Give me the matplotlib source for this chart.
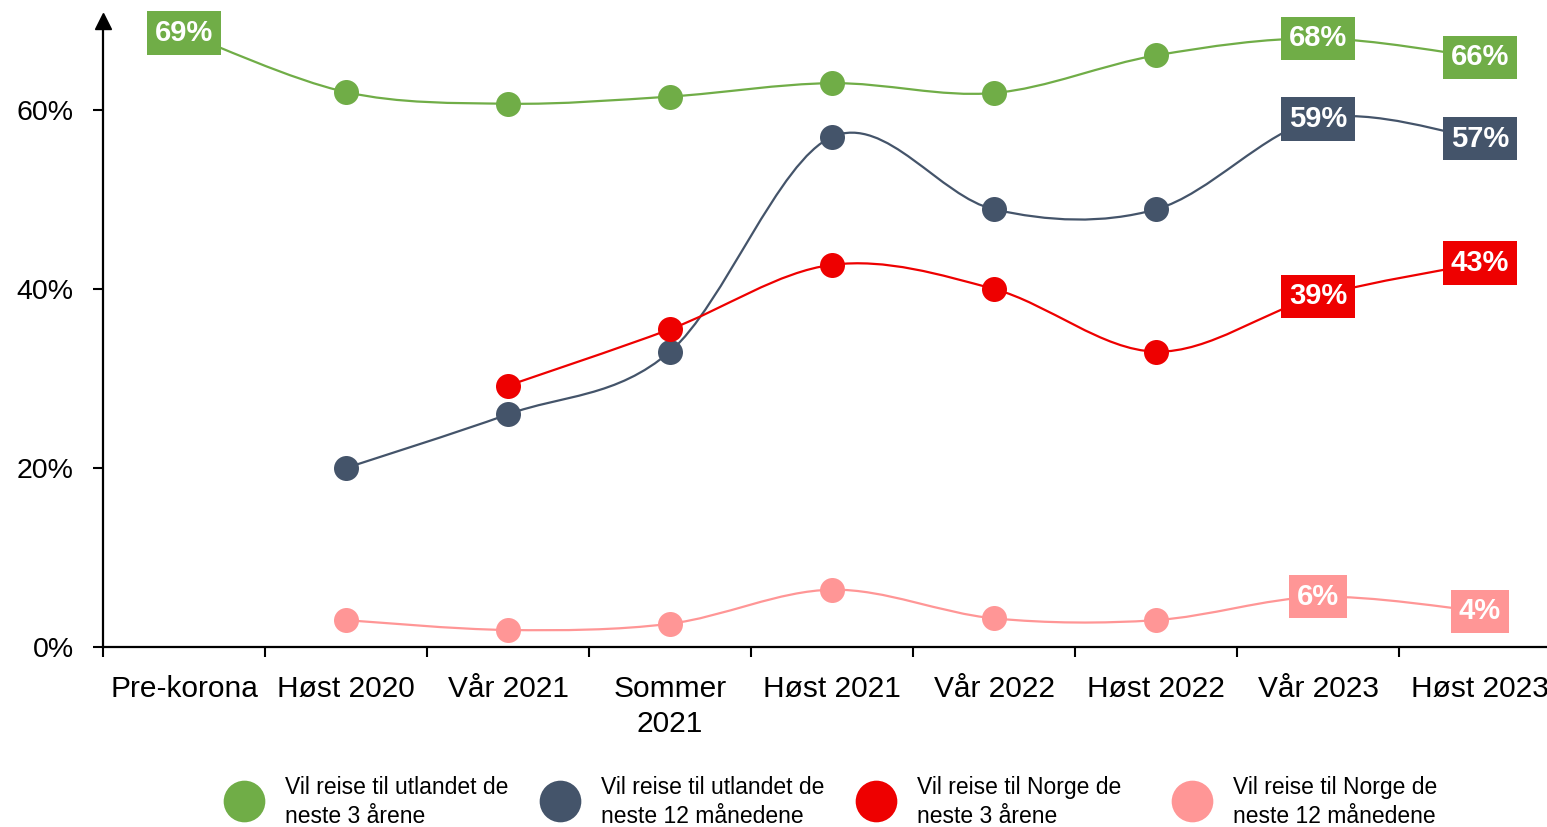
import numpy as np
import matplotlib.pyplot as plt
from matplotlib.path import Path
from matplotlib.patches import PathPatch
from matplotlib.lines import Line2D

# periods on the x axis
periods = ["Pre-korona", "Høst 2020", "Vår 2021", "Sommer\n2021", "Høst 2021",
           "Vår 2022", "Høst 2022", "Vår 2023", "Høst 2023"]

# values in percent, None = not measured
utland_3aar = [68.6, 62.0, 60.7, 61.5, 63.0, 61.9, 66.1, 68.0, 65.9]
utland_12mnd = [None, 20.0, 26.0, 33.0, 57.0, 48.9, 48.9, 59.0, 56.8]
norge_3aar = [None, None, 29.2, 35.5, 42.7, 40.0, 33.0, 39.2, 42.9]
norge_12mnd = [None, 3.0, 1.9, 2.6, 6.4, 3.2, 3.0, 5.6, 4.0]

names = ["Vil reise til utlandet de\nneste 3 årene",
         "Vil reise til utlandet de\nneste 12 månedene",
         "Vil reise til Norge de\nneste 3 årene",
         "Vil reise til Norge de\nneste 12 månedene"]
colors = ["#70AD47", "#44546A", "#EE0000", "#FF9696"]
# which points get a value box instead of a plain marker
boxed = [[0, 7, 8], [7, 8], [7, 8], [7, 8]]

plt.rcParams['font.family'] = ['Liberation Sans', 'DejaVu Sans']

W, H = 1547, 827
fig = plt.figure(figsize=(W / 100, H / 100), dpi=100)
ax = fig.add_axes([103 / W, 1 - 647 / H, 1458 / W, 626.5 / H])
ax.set_xlim(-0.5, 8.5)
ax.set_ylim(0, 70)


def smooth_path(xs, ys):
    # excel-like smoothed line: cubic bezier from catmull-rom tangents
    pts = np.column_stack([xs, ys])
    verts = [pts[0]]
    codes = [Path.MOVETO]
    n = len(pts)
    for i in range(n - 1):
        p0 = pts[max(i - 1, 0)]
        p1 = pts[i]
        p2 = pts[i + 1]
        p3 = pts[min(i + 2, n - 1)]
        verts += [p1 + (p2 - p0) / 6, p2 - (p3 - p1) / 6, p2]
        codes += [Path.CURVE4] * 3
    return Path(verts, codes)


series = [utland_3aar, utland_12mnd, norge_3aar, norge_12mnd]
for vals, col, bx in zip(series, colors, boxed):
    xs = [i for i, v in enumerate(vals) if v is not None]
    ys = [v for v in vals if v is not None]
    ax.add_patch(PathPatch(smooth_path(xs, ys), facecolor="none", edgecolor=col,
                           lw=1.6, zorder=2))
    ax.plot(xs, ys, "o", color=col, ms=18, mec="none", zorder=3)
    for i in bx:
        ax.text(i, vals[i], f"{vals[i]:.0f}%", ha="center", va="center",
                color="white", fontsize=21, fontweight="bold", zorder=5,
                bbox=dict(boxstyle="square,pad=0.26", fc=col, ec="none"))

# axes styling
for s in ["top", "right"]:
    ax.spines[s].set_visible(False)
ax.spines["left"].set_linewidth(1.6)
ax.spines["bottom"].set_linewidth(1.6)
ax.plot(0, 1, "^k", ms=11, transform=ax.transAxes, clip_on=False, zorder=6)

ax.set_yticks([0, 20, 40, 60])
ax.set_yticklabels(["0%", "20%", "40%", "60%"])
ax.tick_params(axis="y", length=7, width=1.5, pad=14, labelsize=20.5)

ax.set_xticks(np.arange(-0.5, 9, 1))
ax.set_xticklabels([])
ax.tick_params(axis="x", which="major", direction="out", length=7, width=1.5)
ax.set_xticks(range(len(periods)), minor=True)
ax.set_xticklabels(periods, minor=True, linespacing=1.35)
ax.tick_params(axis="x", which="minor", length=0, pad=20, labelsize=21.5)

# legend row
for k, (nm, col) in enumerate(zip(names, colors)):
    x0 = 244 + 316 * k
    fig.add_artist(Line2D([x0 / W], [1 - 801 / H], marker="o", ms=30, color=col,
                          mec="none", transform=fig.transFigure))
    fig.text((x0 + 41) / W, 1 - 802 / H, nm, fontsize=16.5, va="center", ha="left",
             linespacing=1.3)

fig.savefig("out.png", dpi=100)
